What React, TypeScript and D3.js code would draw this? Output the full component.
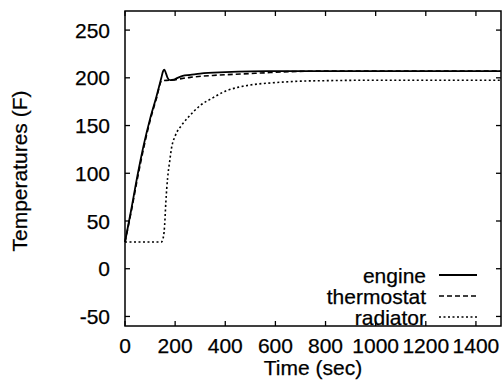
import React from "react";
import * as d3 from "d3";

const engineT = [0, 25, 50, 75, 100, 125, 145, 152, 157, 163, 170, 180, 195, 210, 230, 260, 300, 400, 500, 600, 800, 1000, 1200, 1500];
const engineV = [28, 62, 98, 130, 157, 180, 200, 207, 208.5, 205, 200, 197.5, 198, 200, 202, 203, 204.5, 206, 206.8, 207, 207, 207, 207, 207];

const thermoT = [0, 25, 50, 75, 100, 125, 147, 180, 260, 350, 460, 540, 660, 800, 1000, 1200, 1500];
const thermoV = [28, 60, 95, 127, 155, 178, 197, 197.5, 200.5, 202.5, 204, 205, 206.5, 207, 207, 207, 207];

const radT = [0, 145, 150, 158, 163, 170, 178, 186, 200, 225, 250, 275, 300, 350, 400, 450, 500, 600, 700, 800, 1000, 1200, 1500];
const radV = [28, 28, 30, 45, 70, 95, 112, 127, 139, 150, 158, 165, 171, 179, 186, 190, 192.5, 195, 196.5, 197, 197.5, 197.5, 197.5];

const xTicks = [0, 200, 400, 600, 800, 1000, 1200, 1400];
const yTicks = [-50, 0, 50, 100, 150, 200, 250];
const seriesNames = ["engine", "thermostat", "radiator"];
const dashes = ["none", "5,3", "2,2.5"];

const L = 125, R = 501, T = 11, B = 326;
const FONT = "'Liberation Sans', Arial, Helvetica, sans-serif";
const FS = 21;

export default function App() {
  const x = d3.scaleLinear().domain([0, 1500]).range([L, R]);
  const y = d3.scaleLinear().domain([-60, 270]).range([B, T]);
  const line = d3
    .line<[number, number]>()
    .x((d) => x(d[0]))
    .y((d) => y(d[1]))
    .curve(d3.curveMonotoneX);
  const series = [
    engineT.map((t, i) => [t, engineV[i]] as [number, number]),
    thermoT.map((t, i) => [t, thermoV[i]] as [number, number]),
    radT.map((t, i) => [t, radV[i]] as [number, number]),
  ];
  const tickLen = 5;
  const textProps = { fontSize: FS, fill: "#000", stroke: "#000", strokeWidth: 0.25 };
  return (
    <svg
      width={503}
      height={383}
      style={{ position: "absolute", left: 0, top: 0, background: "#fff" }}
      fontFamily={FONT}
    >
      <rect x={0} y={0} width={503} height={383} fill="#fff" />
      {series.map((s, i) => (
        <path
          key={i}
          d={line(s) || ""}
          fill="none"
          stroke="#000"
          strokeWidth={i === 0 ? 1.8 : 1.6}
          strokeDasharray={dashes[i]}
        />
      ))}
      <rect x={L} y={T} width={R - L} height={B - T} fill="none" stroke="#000" strokeWidth={1.5} />
      {xTicks.map((t) => (
        <g key={"x" + t}>
          <line x1={x(t)} x2={x(t)} y1={B} y2={B - tickLen} stroke="#000" strokeWidth={1.3} />
          <line x1={x(t)} x2={x(t)} y1={T} y2={T + tickLen} stroke="#000" strokeWidth={1.3} />
          <text x={x(t)} y={353} textAnchor="middle" {...textProps}>
            {t}
          </text>
        </g>
      ))}
      {yTicks.map((t) => (
        <g key={"y" + t}>
          <line x1={L} x2={L + tickLen} y1={y(t)} y2={y(t)} stroke="#000" strokeWidth={1.3} />
          <line x1={R} x2={R - tickLen} y1={y(t)} y2={y(t)} stroke="#000" strokeWidth={1.3} />
          <text x={110} y={y(t) + 7.5} textAnchor="end" {...textProps}>
            {t}
          </text>
        </g>
      ))}
      <text x={313} y={375} textAnchor="middle" {...textProps}>
        Time (sec)
      </text>
      <text transform={`translate(27,171) rotate(-90)`} textAnchor="middle" {...textProps}>
        Temperatures (F)
      </text>
      {seriesNames.map((n, i) => {
        const cy = 275 + i * 21;
        return (
          <g key={n}>
            <text x={426} y={cy + 7.5} textAnchor="end" {...textProps}>
              {n}
            </text>
            <line
              x1={439}
              x2={477}
              y1={cy}
              y2={cy}
              stroke="#000"
              strokeWidth={i === 0 ? 1.8 : 1.6}
              strokeDasharray={dashes[i]}
            />
          </g>
        );
      })}
    </svg>
  );
}
